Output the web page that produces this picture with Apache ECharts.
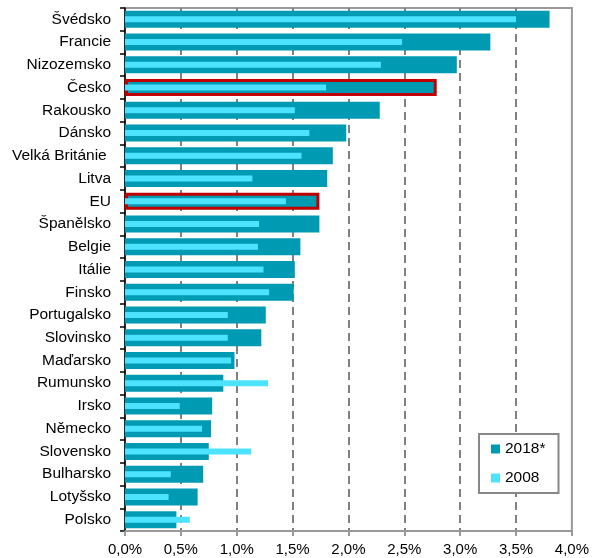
<!DOCTYPE html>
<html><head><meta charset="utf-8">
<script src="https://cdn.jsdelivr.net/npm/echarts@6/dist/echarts.min.js"></script>
<style>html,body{margin:0;padding:0;background:#fff}#c{width:592px;height:558px}</style>
</head><body><div id="c"></div>
<script>
const categories = ['Švédsko','Francie','Nizozemsko','Česko','Rakousko','Dánsko','Velká Británie ','Litva','EU','Španělsko','Belgie','Itálie','Finsko','Portugalsko','Slovinsko','Maďarsko','Rumunsko','Irsko','Německo','Slovensko','Bulharsko','Lotyšsko','Polsko'];
const values2018 = [3.80,3.27,2.97,2.79,2.28,1.98,1.86,1.81,1.74,1.74,1.57,1.52,1.51,1.26,1.22,0.98,0.88,0.78,0.77,0.75,0.70,0.65,0.46];
const values2008 = [3.50,2.48,2.29,1.80,1.52,1.65,1.58,1.14,1.44,1.20,1.19,1.24,1.29,0.92,0.92,0.95,1.28,0.49,0.69,1.13,0.41,0.39,0.58];
const highlighted = ['Česko','EU'];
const seriesNames = ['2018*','2008'];
const xMin = 0, xMax = 4, xStep = 0.5;

const FONT = '"Liberation Sans", Arial, sans-serif';
const DARK = '#009AB3';
const LIGHT = '#4DE3FF';

const chart = echarts.init(document.getElementById('c'), null, {renderer:'canvas'});
const data2018 = values2018.map((v,i) => highlighted.includes(categories[i])
  ? {value:v, itemStyle:{borderColor:'#C00000', borderWidth:3}} : v);

chart.setOption({
  animation:false,
  backgroundColor:'#fff',
  textStyle:{fontFamily:FONT},
  grid:{left:125, right:18, top:8, bottom:27, show:true, borderColor:'#999', borderWidth:2, backgroundColor:'transparent'},
  legend:{
    orient:'vertical', left:479, top:434,
    data:seriesNames,
    icon:'rect', itemWidth:9, itemHeight:9, itemGap:13,
    padding:[7,13,7,12],
    borderColor:'#888', borderWidth:2, backgroundColor:'#fff',
    textStyle:{fontFamily:FONT, fontSize:15.5, color:'#000'}
  },
  xAxis:{
    type:'value', min:xMin, max:xMax, interval:xStep,
    axisLine:{show:true, lineStyle:{color:'#999', width:2}},
    axisTick:{show:true, length:5, lineStyle:{color:'#999', width:2}},
    axisLabel:{fontFamily:FONT, fontSize:15, color:'#000', margin:11,
      formatter:v => v.toFixed(1).replace('.', ',') + '%'},
    splitLine:{show:true, showMinLine:false, showMaxLine:false,
      lineStyle:{color:'#808080', width:2, type:[8,5]}}
  },
  yAxis:[
    {type:'category', data:categories, inverse:true,
     axisLine:{show:true, lineStyle:{color:'#000', width:1.5}},
     axisTick:{show:true, length:5, lineStyle:{color:'#000', width:1.5}},
     axisLabel:{fontFamily:FONT, fontSize:15.5, color:'#000', margin:14},
     splitLine:{show:false}},
    {type:'category', data:categories, inverse:true, show:false, position:'left'}
  ],
  series:[
    {name:seriesNames[0], type:'bar', yAxisIndex:0, barWidth:17, data:data2018,
     itemStyle:{color:DARK}, z:2},
    {name:seriesNames[1], type:'bar', yAxisIndex:1, barWidth:6, data:values2008,
     itemStyle:{color:LIGHT}, z:3}
  ]
});
</script></body></html>
